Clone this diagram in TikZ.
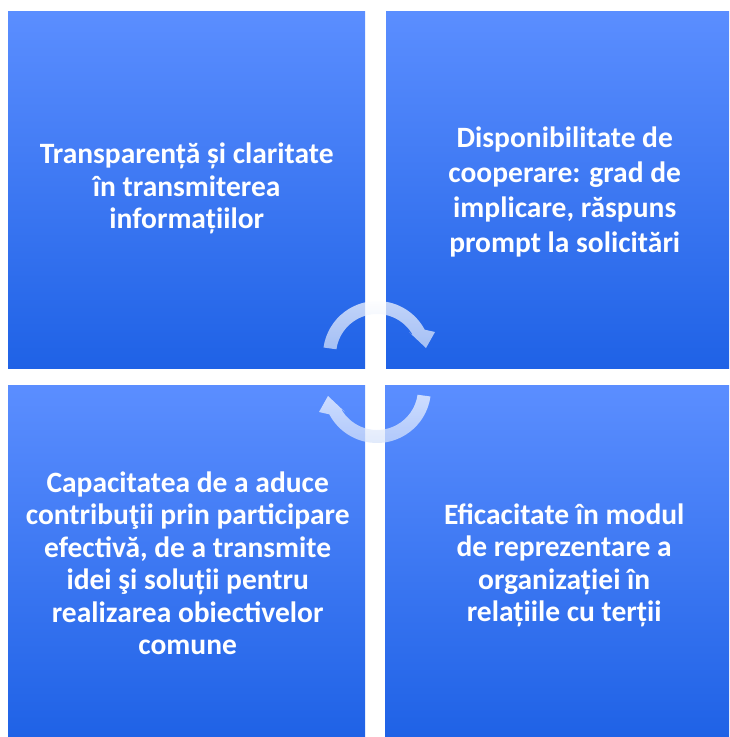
\documentclass[tikz,border=0pt]{standalone}
\usepackage{fontspec}
\setmainfont{Carlito}
\usepackage{tikz}
\usetikzlibrary{positioning}
\usetikzlibrary{calc}
\definecolor{boxtop}{HTML}{5B8EFF}
\definecolor{boxbottom}{HTML}{1F62E6}
\tikzset{quad node/.style={rectangle,inner sep=0pt,top color=boxtop,bottom color=boxbottom,draw=none},
  quad text/.style={text=white,font=\fontsize{29.5}{32.5}\selectfont\bfseries,align=center,inner sep=0pt},
  cycle arrow/.style={top color=white,bottom color=white!80!boxbottom,fill opacity=0.72,draw=none}}

\begin{document}
\begin{tikzpicture}[x=1pt,y=1pt]
    \useasboundingbox (0,0) rectangle (729,-737);
    % the four squares
    \node[quad node,minimum width=357pt,minimum height=357pt,anchor=north west] (tl) at (8,-11) {};
    \node[quad node,minimum width=343pt,minimum height=357pt,anchor=north west] (tr) at (386,-11) {};
    \node[quad node,minimum width=357pt,minimum height=352pt,anchor=north west] (bl) at (8,-385) {};
    \node[quad node,minimum width=344pt,minimum height=352pt,anchor=north west] (br) at (385,-385) {};

    \node[quad text] (tl-text) at ([yshift=1pt]tl.center) {Transparență și claritate\\în transmiterea\\informațiilor};
    \node[quad text,font=\fontsize{29.5}{35}\selectfont\bfseries] (tr-text) at ([xshift=7pt,yshift=-2pt]tr.center) {Disponibilitate de\\cooperare: grad de\\implicare, răspuns\\prompt la solicitări};
    \node[quad text] (bl-text) at ([xshift=1pt,yshift=-2pt]bl.center) {Capacitatea de a aduce\\contribuţii prin participare\\efectivă, de a transmite\\idei şi soluții pentru\\realizarea obiectivelor\\comune};
    \node[quad text] (br-text) at ([xshift=7pt,yshift=-4pt]br.center) {Eficacitate în modul\\de reprezentare a\\organizației în\\relațiile cu terții};

    % circular arrows
    \path[cycle arrow] (377,-355) ++(172:54) arc[start angle=172,end angle=28,radius=54]
        -- (435,-332) -- (426,-348) -- (409,-332)
        -- ([shift={(28:41)}]377,-355) arc[start angle=28,end angle=172,radius=41] -- cycle;
    \path[cycle arrow] (377,-389) ++(-8:54) arc[start angle=-8,end angle=-152,radius=54]
        -- (319,-412) -- (328,-396) -- (345,-412)
        -- ([shift={(-152:41)}]377,-389) arc[start angle=-152,end angle=-8,radius=41] -- cycle;
\end{tikzpicture}
\end{document}
